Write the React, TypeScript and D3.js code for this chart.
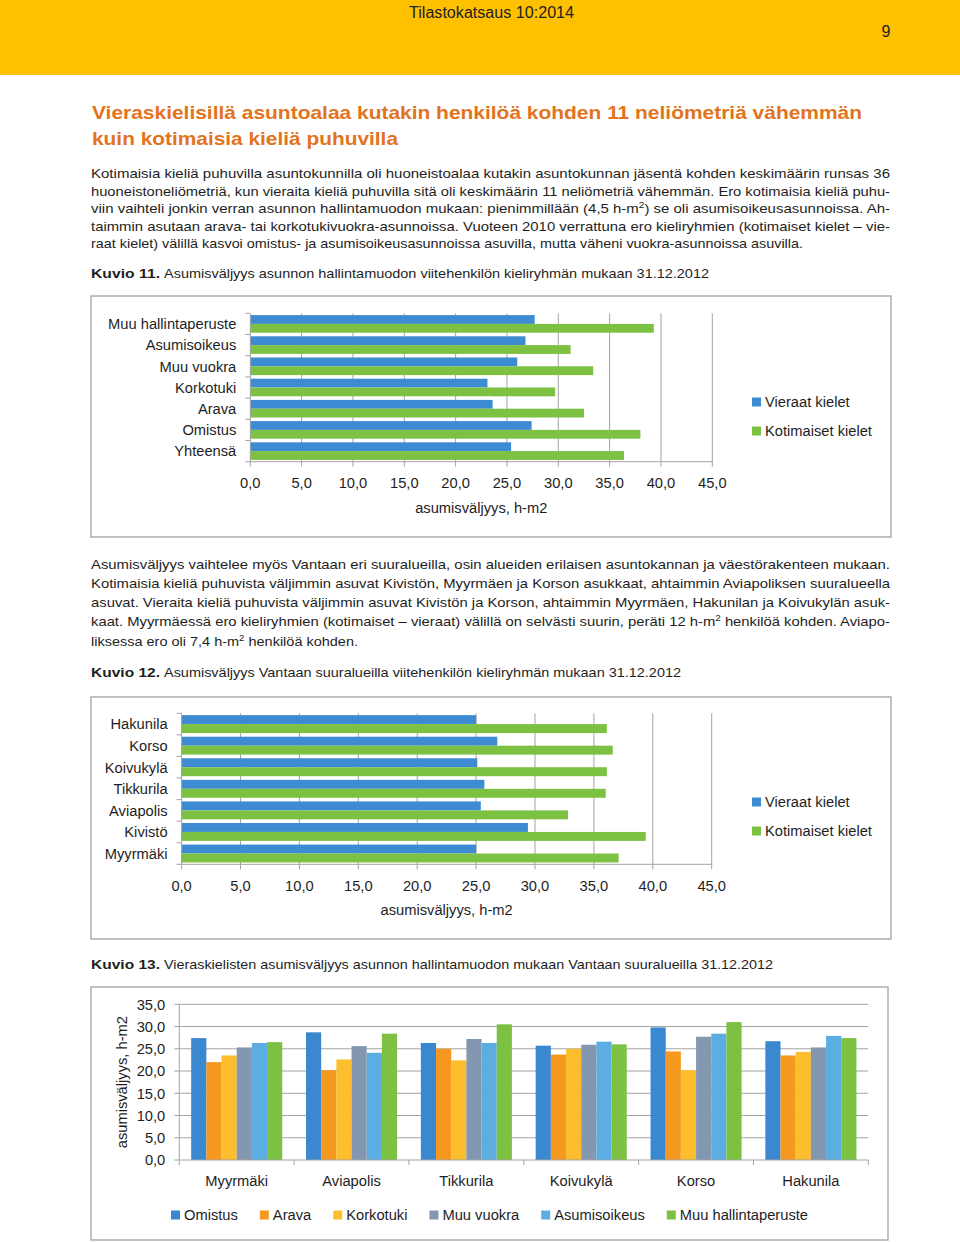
import React, { useEffect, useRef } from 'react';
import * as d3 from 'd3';

// Kuvio 11: hallintamuodot
const tenureCategories = ["Muu hallintaperuste", "Asumisoikeus", "Muu vuokra", "Korkotuki", "Arava", "Omistus", "Yhteensä"];
const tenureForeign = [27.7, 26.8, 26.0, 23.1, 23.6, 27.4, 25.4];
const tenureDomestic = [39.3, 31.2, 33.4, 29.7, 32.5, 38.0, 36.4];

// Kuvio 12: suuralueet
const areaCategories = ["Hakunila", "Korso", "Koivukylä", "Tikkurila", "Aviapolis", "Kivistö", "Myyrmäki"];
const areaForeign = [25.0, 26.8, 25.1, 25.7, 25.4, 29.4, 25.0];
const areaDomestic = [36.1, 36.6, 36.1, 36.0, 32.8, 39.4, 37.1];

const languageSeries = ["Vieraat kielet", "Kotimaiset kielet"];
const languageColors = ["#3d8bd3", "#7cc142"];
const hTicks = [0, 5, 10, 15, 20, 25, 30, 35, 40, 45];

// Kuvio 13: vieraskieliset suuralueittain ja hallintamuodoittain
const districts = ["Myyrmäki", "Aviapolis", "Tikkurila", "Koivukylä", "Korso", "Hakunila"];
const tenureSeries = ["Omistus", "Arava", "Korkotuki", "Muu vuokra", "Asumisoikeus", "Muu hallintaperuste"];
const tenureColors = ["#3a88d0", "#f5981f", "#fdbe2e", "#8398b0", "#5bade2", "#7cc142"];
const omistus = [27.4, 28.7, 26.3, 25.7, 29.8, 26.7];
const arava = [22.0, 20.2, 25.0, 23.7, 24.4, 23.5];
const korkotuki = [23.5, 22.6, 22.4, 25.0, 20.2, 24.3];
const muuVuokra = [25.3, 25.6, 27.2, 25.9, 27.7, 25.3];
const asumisoikeus = [26.3, 24.1, 26.3, 26.6, 28.4, 27.9];
const muuHallinta = [26.5, 28.4, 30.5, 26.0, 31.0, 27.4];
const vTicks = [0, 5, 10, 15, 20, 25, 30, 35];

const FONT = '"Liberation Sans", Arial, Helvetica, sans-serif';
const GRID = "#a3a3a3";
const TEXT = "#1e1e1e";
const FS = "14.7px";
const fmt = (v: number) => d3.format(".1f")(v).replace(".", ",");

type Box = { left: number; right: number; top: number; bottom: number };

function drawFrame(g: any, x: number, y: number, w: number, h: number) {
  g.append("rect")
    .attr("x", x).attr("y", y).attr("width", w).attr("height", h)
    .attr("fill", "#fff").attr("stroke", "#a8a8a8").attr("stroke-width", 1.4);
}

function drawHorizontalChart(g: any, plot: Box, categories: string[], foreign: number[], domestic: number[], legendX: number, legendY: number) {
  const x = d3.scaleLinear().domain([0, 45]).range([plot.left, plot.right]);
  const y = d3.scaleBand().domain(categories).range([plot.top, plot.bottom]).paddingInner(0.17).paddingOuter(0.085);
  const inner = d3.scaleBand().domain(languageSeries).range([0, y.bandwidth()]);

  // pystysuorat apuviivat
  g.selectAll(".grid").data(hTicks.slice(1)).enter().append("line")
    .attr("x1", (d: number) => x(d)).attr("x2", (d: number) => x(d))
    .attr("y1", plot.top).attr("y2", plot.bottom)
    .attr("stroke", GRID).attr("stroke-width", 1);

  const rows = categories.map((c, i) => ({ c, values: [foreign[i], domestic[i]] }));
  const groups = g.selectAll(".row").data(rows).enter().append("g")
    .attr("transform", (d: any) => `translate(0,${y(d.c)})`);
  groups.selectAll("rect").data((d: any) => d.values.map((v: number, j: number) => ({ v, s: languageSeries[j], j })))
    .enter().append("rect")
    .attr("x", x(0))
    .attr("y", (d: any) => inner(d.s))
    .attr("width", (d: any) => x(d.v) - x(0))
    .attr("height", inner.bandwidth())
    .attr("fill", (d: any) => languageColors[d.j]);

  // akselit
  g.append("line").attr("x1", x(0)).attr("x2", x(0)).attr("y1", plot.top).attr("y2", plot.bottom)
    .attr("stroke", GRID).attr("stroke-width", 1);
  g.append("line").attr("x1", x(0)).attr("x2", plot.right).attr("y1", plot.bottom).attr("y2", plot.bottom)
    .attr("stroke", GRID).attr("stroke-width", 1);
  g.selectAll(".ytick").data(d3.range(categories.length + 1)).enter().append("line")
    .attr("x1", x(0) - 5).attr("x2", x(0))
    .attr("y1", (i: number) => plot.top + i * y.step()).attr("y2", (i: number) => plot.top + i * y.step())
    .attr("stroke", GRID);
  g.selectAll(".xtick").data(hTicks).enter().append("line")
    .attr("x1", (d: number) => x(d)).attr("x2", (d: number) => x(d))
    .attr("y1", plot.bottom).attr("y2", plot.bottom + 5)
    .attr("stroke", GRID);

  g.selectAll(".xlabel").data(hTicks).enter().append("text")
    .attr("x", (d: number) => x(d)).attr("y", plot.bottom + 26.5)
    .attr("text-anchor", "middle")
    .style("font-size", FS).style("fill", TEXT)
    .text((d: number) => fmt(d));

  g.selectAll(".ylabel").data(categories).enter().append("text")
    .attr("x", x(0) - 14).attr("y", (d: string) => (y(d) as number) + y.bandwidth() / 2)
    .attr("dy", "0.36em").attr("text-anchor", "end")
    .style("font-size", FS).style("fill", TEXT)
    .text((d: string) => d);

  g.append("text")
    .attr("x", (plot.left + plot.right) / 2).attr("y", plot.bottom + 51)
    .attr("text-anchor", "middle")
    .style("font-size", FS).style("fill", TEXT)
    .text("asumisväljyys, h-m2");

  const legend = g.selectAll(".legend").data(languageSeries).enter().append("g")
    .attr("transform", (_: any, i: number) => `translate(${legendX},${legendY + i * 29})`);
  legend.append("rect").attr("x", 0).attr("y", -4.5).attr("width", 9).attr("height", 9)
    .attr("fill", (_: any, i: number) => languageColors[i]);
  legend.append("text").attr("x", 13).attr("dy", "0.36em")
    .style("font-size", FS).style("fill", TEXT)
    .text((d: string) => d);
}

function drawColumnChart(g: any, plot: Box, frameCenter: number) {
  const seriesValues = [omistus, arava, korkotuki, muuVuokra, asumisoikeus, muuHallinta];
  const x = d3.scaleBand().domain(districts).range([plot.left, plot.right]).paddingInner(0.207).paddingOuter(0.1035);
  const inner = d3.scaleBand().domain(tenureSeries).range([0, x.bandwidth()]);
  const y = d3.scaleLinear().domain([0, 35]).range([plot.bottom, plot.top]);

  g.selectAll(".grid").data(vTicks.slice(1)).enter().append("line")
    .attr("x1", plot.left).attr("x2", plot.right)
    .attr("y1", (d: number) => y(d)).attr("y2", (d: number) => y(d))
    .attr("stroke", GRID);

  const groups = g.selectAll(".grp").data(districts).enter().append("g")
    .attr("transform", (d: string) => `translate(${x(d)},0)`);
  groups.selectAll("rect")
    .data((_: string, i: number) => tenureSeries.map((s, j) => ({ s, j, v: seriesValues[j][i] })))
    .enter().append("rect")
    .attr("x", (d: any) => inner(d.s))
    .attr("y", (d: any) => y(d.v))
    .attr("width", inner.bandwidth())
    .attr("height", (d: any) => y(0) - y(d.v))
    .attr("fill", (d: any) => tenureColors[d.j]);

  g.append("line").attr("x1", plot.left).attr("x2", plot.left).attr("y1", plot.top).attr("y2", plot.bottom)
    .attr("stroke", GRID);
  g.append("line").attr("x1", plot.left).attr("x2", plot.right).attr("y1", plot.bottom).attr("y2", plot.bottom)
    .attr("stroke", GRID);
  g.selectAll(".ytick").data(vTicks).enter().append("line")
    .attr("x1", plot.left - 5).attr("x2", plot.left)
    .attr("y1", (d: number) => y(d)).attr("y2", (d: number) => y(d))
    .attr("stroke", GRID);
  g.selectAll(".xtick").data(d3.range(districts.length + 1)).enter().append("line")
    .attr("x1", (i: number) => plot.left + i * x.step()).attr("x2", (i: number) => plot.left + i * x.step())
    .attr("y1", plot.bottom).attr("y2", plot.bottom + 5)
    .attr("stroke", GRID);

  g.selectAll(".ylabel").data(vTicks).enter().append("text")
    .attr("x", plot.left - 14).attr("y", (d: number) => y(d)).attr("dy", "0.36em")
    .attr("text-anchor", "end")
    .style("font-size", FS).style("fill", TEXT)
    .text((d: number) => fmt(d));

  g.selectAll(".xlabel").data(districts).enter().append("text")
    .attr("x", (d: string) => (x(d) as number) + x.bandwidth() / 2).attr("y", plot.bottom + 26)
    .attr("text-anchor", "middle")
    .style("font-size", FS).style("fill", TEXT)
    .text((d: string) => d);

  g.append("text")
    .attr("transform", `translate(${plot.left - 58},${(plot.top + plot.bottom) / 2}) rotate(-90)`)
    .attr("dy", "0.36em").attr("text-anchor", "middle")
    .style("font-size", FS).style("fill", TEXT)
    .text("asumisväljyys, h-m2");

  // selite vaakasuoraan, keskitettynä kehykseen
  const legend = g.append("g");
  let cursor = 0;
  tenureSeries.forEach((s, i) => {
    const item = legend.append("g").attr("transform", `translate(${cursor},0)`);
    item.append("rect").attr("x", 0).attr("y", -4.5).attr("width", 9).attr("height", 9).attr("fill", tenureColors[i]);
    const t = item.append("text").attr("x", 13).attr("dy", "0.36em")
      .style("font-size", FS).style("fill", TEXT).text(s);
    const w = (t.node() as SVGTextElement).getComputedTextLength();
    cursor += 13 + w + 22;
  });
  const total = cursor - 22;
  legend.attr("transform", `translate(${frameCenter - total / 2},${plot.bottom + 55})`);
}

function Rich({ s }: { s: string }) {
  const parts = s.split("²");
  return (
    <>
      {parts.map((p, i) => (
        <React.Fragment key={i}>
          <tspan dy={i > 0 ? 5 : 0}>{p}</tspan>
          {i < parts.length - 1 && <tspan dy={-5} fontSize={9}>2</tspan>}
        </React.Fragment>
      ))}
    </>
  );
}

const para1 = [
  "Kotimaisia kieliä puhuvilla asuntokunnilla oli huoneistoalaa kutakin asuntokunnan jäsentä kohden keskimäärin runsas 36",
  "huoneistoneliömetriä, kun vieraita kieliä puhuvilla sitä oli keskimäärin 11 neliömetriä vähemmän. Ero kotimaisia kieliä puhu-",
  "viin vaihteli jonkin verran asunnon hallintamuodon mukaan: pienimmillään (4,5 h-m²) se oli asumisoikeusasunnoissa. Ah-",
  "taimmin asutaan arava- tai korkotukivuokra-asunnoissa. Vuoteen 2010 verrattuna ero kieliryhmien (kotimaiset kielet – vie-",
  "raat kielet) välillä kasvoi omistus- ja asumisoikeusasunnoissa asuvilla, mutta väheni vuokra-asunnoissa asuvilla.",
];
const para1Y = [178, 196, 213, 231, 248];
const para1End = [890, 890, 890, 890, 803];

const para2 = [
  "Asumisväljyys vaihtelee myös Vantaan eri suuralueilla, osin alueiden erilaisen asuntokannan ja väestörakenteen mukaan.",
  "Kotimaisia kieliä puhuvista väljimmin asuvat Kivistön, Myyrmäen ja Korson asukkaat, ahtaimmin Aviapoliksen suuralueella",
  "asuvat. Vieraita kieliä puhuvista väljimmin asuvat Kivistön ja Korson, ahtaimmin Myyrmäen, Hakunilan ja Koivukylän asuk-",
  "kaat. Myyrmäessä ero kieliryhmien (kotimaiset – vieraat) välillä on selvästi suurin, peräti 12 h-m² henkilöä kohden. Aviapo-",
  "liksessa ero oli 7,4 h-m² henkilöä kohden.",
];
const para2Y = [569, 588, 607, 626, 646];
const para2End = [890, 890, 890, 890, 358];

const captions = [
  { n: "Kuvio 11.", t: "Asumisväljyys asunnon hallintamuodon viitehenkilön kieliryhmän mukaan 31.12.2012", y: 278, end: 709 },
  { n: "Kuvio 12.", t: "Asumisväljyys Vantaan suuralueilla viitehenkilön kieliryhmän mukaan 31.12.2012", y: 677, end: 681 },
  { n: "Kuvio 13.", t: "Vieraskielisten asumisväljyys asunnon hallintamuodon mukaan Vantaan suuralueilla 31.12.2012", y: 969, end: 773 },
];

export default function App() {
  const chartsRef = useRef<SVGGElement>(null);

  useEffect(() => {
    if (!chartsRef.current) return;
    const root = d3.select(chartsRef.current);
    root.selectAll("*").remove();
    root.style("font-family", FONT);

    const c1 = root.append("g");
    drawFrame(c1, 91, 296, 800, 241);
    drawHorizontalChart(c1, { left: 250.3, right: 712.3, top: 313.3, bottom: 461.7 },
      tenureCategories, tenureForeign, tenureDomestic, 752, 402);

    const c2 = root.append("g");
    drawFrame(c2, 91, 697, 800, 242);
    drawHorizontalChart(c2, { left: 181.6, right: 711.7, top: 713.3, bottom: 864.3 },
      areaCategories, areaForeign, areaDomestic, 752, 802);

    const c3 = root.append("g");
    drawFrame(c3, 91, 987, 797, 253);
    drawColumnChart(c3, { left: 179.3, right: 868.3, top: 1004.3, bottom: 1160 }, 489.5);
  }, []);

  return (
    <svg width={960} height={1242} style={{ position: "absolute", left: 0, top: 0, background: "#fff" }}
      fontFamily={FONT}>
      <rect x={0} y={0} width={960} height={75} fill="#ffc000" />
      <text x={409} y={18} fontSize={16} fill="#222" textLength={165} lengthAdjust="spacingAndGlyphs">Tilastokatsaus 10:2014</text>
      <text x={886} y={37} fontSize={16} fill="#222" textAnchor="middle">9</text>

      <text x={92} y={119} fontSize={18.5} fontWeight="bold" fill="#e3731d" textLength={770} lengthAdjust="spacingAndGlyphs">
        Vieraskielisillä asuntoalaa kutakin henkilöä kohden 11 neliömetriä vähemmän
      </text>
      <text x={92} y={145} fontSize={18.5} fontWeight="bold" fill="#e3731d" textLength={306} lengthAdjust="spacingAndGlyphs">
        kuin kotimaisia kieliä puhuvilla
      </text>

      {para1.map((s, i) => (
        <text key={"p1" + i} x={91} y={para1Y[i]} fontSize={13.5} fill={TEXT}
          textLength={para1End[i] - 91} lengthAdjust="spacingAndGlyphs"><Rich s={s} /></text>
      ))}
      {para2.map((s, i) => (
        <text key={"p2" + i} x={91} y={para2Y[i]} fontSize={13.5} fill={TEXT}
          textLength={para2End[i] - 91} lengthAdjust="spacingAndGlyphs"><Rich s={s} /></text>
      ))}
      {captions.map((c) => (
        <g key={c.n}>
          <text x={91} y={c.y} fontSize={13.5} fontWeight="bold" fill={TEXT} textLength={69} lengthAdjust="spacingAndGlyphs">{c.n}</text>
          <text x={164} y={c.y} fontSize={13.5} fill={TEXT} textLength={c.end - 164} lengthAdjust="spacingAndGlyphs">{c.t}</text>
        </g>
      ))}

      <g ref={chartsRef} />
    </svg>
  );
}
